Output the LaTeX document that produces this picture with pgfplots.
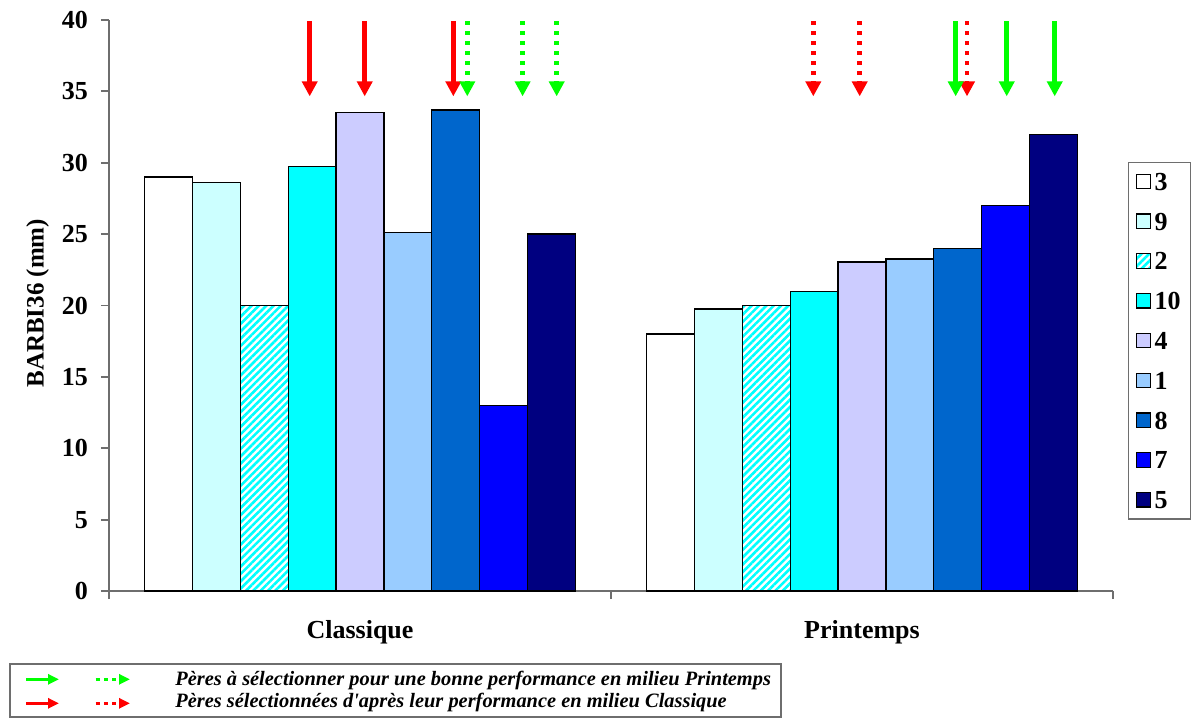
\documentclass[border=0pt]{standalone}
\usepackage{fontspec}
\setmainfont{Liberation Serif}
\usepackage{pgfplots}
\pgfplotsset{compat=1.18}
\usetikzlibrary{patterns.meta,arrows.meta}

\definecolor{c9}{HTML}{CCFFFF}
\definecolor{c10}{HTML}{00FFFF}
\definecolor{c4}{HTML}{CCCCFF}
\definecolor{c1}{HTML}{99CCFF}
\definecolor{c8}{HTML}{0066CC}
\definecolor{c7}{HTML}{0000FF}
\definecolor{c5}{HTML}{000080}
\definecolor{agreen}{HTML}{00FF00}
\definecolor{ared}{HTML}{FF0000}
\definecolor{axisgray}{HTML}{6E6E6E}

\pgfplotsset{
  famille/.style={ybar, bar width=0.0953, bar shift=#1, draw=black, line width=0.7pt,
    legend image code/.code={\draw[##1, line width=0.6pt] (0pt,-3.6pt) rectangle (7.2pt,3.6pt);}},
  fleche/.style={quiver={u=0,v=-5.25}, -{Triangle[width=7.5pt,length=7.5pt]},
    line width=2.35pt, mark=none, forget plot},
  pointille/.style={dash pattern=on 2pt off 3pt},
}

\begin{document}
\begin{tikzpicture}
\useasboundingbox (0,0) rectangle (599pt,359.5pt);
\begin{axis}[
  width=502pt, height=285.5pt, scale only axis,
  at={(54.5pt,64pt)}, anchor=south west,
  xmin=-0.5, xmax=1.5, ymin=0, ymax=40,
  clip=false,
  axis x line*=bottom, axis y line*=left,
  axis line style={axisgray, line width=0.9pt},
  tick align=outside, major tick length=4pt,
  tick style={axisgray, line width=0.9pt},
  ytick={0,5,...,40},
  xtick={-0.5,0.5,1.5}, xticklabels={},
  extra x ticks={0,1}, extra x tick labels={Classique,Printemps},
  extra x tick style={major tick length=0pt, tick label style={yshift=-11pt}},
  /pgf/number format/assume math mode=true,
  ticklabel style={font=\fontsize{13}{15}\selectfont\bfseries},
  yticklabel style={xshift=-3pt},
  ylabel={BARBI36 (mm)},
  every axis y label/.style={at={(axis description cs:-0.0712,0.504)}, rotate=90, anchor=center,
    font=\fontsize{12.5}{14}\selectfont\bfseries},
  legend style={at={(rel axis cs:1.0149,0.752)}, anchor=north west, draw=axisgray,
    line width=0.75pt, font=\fontsize{13}{13}\selectfont\bfseries,
    inner xsep=3.5pt, inner ysep=5pt, row sep=10.9pt,
    nodes={text height=9pt, text depth=0pt, inner ysep=0pt, inner xsep=1.6pt},
    cells={anchor=west}},
]
% one series per father, values for the two environments
\addplot[famille=-0.3812, fill=white] coordinates {(0,29.0) (1,18.0)};
\addlegendentry{3}
\addplot[famille=-0.2859, fill=c9] coordinates {(0,28.6) (1,19.75)};
\addlegendentry{9}
\addplot[famille=-0.1906, pattern={Lines[angle=45,distance=2.6pt,line width=1.3pt]}, pattern color=c10] coordinates {(0,20.0) (1,20.0)};
\addlegendentry{2}
\addplot[famille=-0.0953, fill=c10] coordinates {(0,29.75) (1,21.0)};
\addlegendentry{10}
\addplot[famille=0, fill=c4] coordinates {(0,33.5) (1,23.05)};
\addlegendentry{4}
\addplot[famille=0.0953, fill=c1] coordinates {(0,25.1) (1,23.25)};
\addlegendentry{1}
\addplot[famille=0.1906, fill=c8] coordinates {(0,33.7) (1,24.0)};
\addlegendentry{8}
\addplot[famille=0.2859, fill=c7] coordinates {(0,13.0) (1,27.0)};
\addlegendentry{7}
\addplot[famille=0.3812, fill=c5] coordinates {(0,25.0) (1,32.0)};
\addlegendentry{5}

% selection arrows above the bars
\addplot[fleche, ared] coordinates {(-0.1002,39.9) (0.0094,39.9) (0.1859,39.9)};
\addplot[fleche, agreen, pointille] coordinates {(0.2137,39.9) (0.3239,39.9) (0.3918,39.9)};
\addplot[fleche, ared, pointille] coordinates {(0.9030,39.9) (0.9954,39.9) (1.2092,39.9)};
\addplot[fleche, agreen] coordinates {(1.1866,39.9) (1.2883,39.9) (1.3839,39.9)};
\end{axis}

% key for the arrows
\draw[axisgray, line width=0.75pt] (5pt,1pt) rectangle (390.4pt,27.5pt);
\draw[agreen, line width=1.65pt, -{Triangle[width=5pt,length=5.5pt]}] (13pt,19.85pt) -- (29.5pt,19.85pt);
\draw[agreen, line width=1.65pt, dash pattern=on 2.1pt off 2pt, -{Triangle[width=5pt,length=5.5pt]}] (47.85pt,19.85pt) -- (65pt,19.85pt);
\draw[ared, line width=1.65pt, -{Triangle[width=5pt,length=5.5pt]}] (13pt,7.85pt) -- (29.5pt,7.85pt);
\draw[ared, line width=1.65pt, dash pattern=on 2.1pt off 2pt, -{Triangle[width=5pt,length=5.5pt]}] (47.85pt,7.85pt) -- (65pt,7.85pt);
\node[anchor=base west, inner sep=0pt, font=\fontsize{10.2}{12}\selectfont\bfseries\itshape] at (87.5pt,16.65pt)
  {Pères à sélectionner pour une bonne performance en milieu Printemps};
\node[anchor=base west, inner sep=0pt, font=\fontsize{10.2}{12}\selectfont\bfseries\itshape] at (87.5pt,5.65pt)
  {Pères sélectionnées d\textquotesingle après leur performance en milieu Classique};
\end{tikzpicture}
\end{document}
